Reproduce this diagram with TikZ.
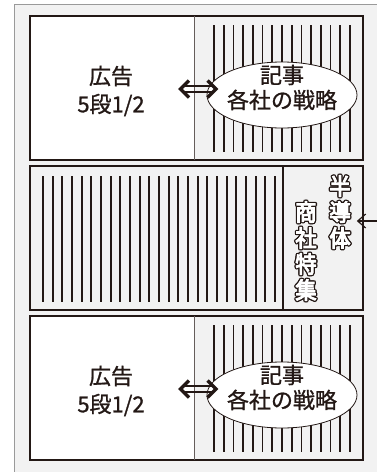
\documentclass[tikz,border=0pt]{standalone}
\usepackage{fontspec}
\setmainfont{Noto Sans CJK JP}[FakeBold=1]
\newfontfamily\cjkbold[FakeBold=4.5,FakeStretch=0.92]{Noto Sans CJK JP}
\usetikzlibrary{shapes.geometric,arrows.meta}
\definecolor{ink}{HTML}{231815}
\definecolor{paper}{HTML}{F2F2F2}
\definecolor{rim}{HTML}{9A9A9A}
\newcommand{\hollowtext}[4]{%
  \foreach \dx/\dy in {-1.3/0,1.3/0,0/-1.3,0/1.3,-0.95/-0.95,0.95/0.95,-0.95/0.95,0.95/-0.95}{%
    \node[vchar,text=ink] at (#2+\dx,#3+\dy) {#4};}%
  \node[vchar,text=white] (#1) at (#2,#3) {#4};%
}
\begin{document}
\begin{tikzpicture}[x=1pt,y=-1pt,
  cellw/.style={fill=white, inner sep=0, outer sep=0},
  cellg/.style={fill=paper, inner sep=0, outer sep=0},
  frame/.style={draw=ink, line width=1.2pt},
  divline/.style={draw=ink!70, line width=1pt},
  hatch/.style={draw=ink, line width=1.8pt},
  bubble/.style={ellipse, draw=ink, line width=0.8pt, fill=white, minimum width=150pt, minimum height=66pt, inner sep=0},
  adlabel/.style={font=\fontsize{22}{28}\selectfont, align=center, text=ink, inner sep=0},
  artlabel/.style={font=\fontsize{22}{25}\selectfont, align=center, text=ink, inner sep=0},
  vchar/.style={font=\cjkbold\fontsize{23}{23}\selectfont, inner sep=0},
  chev/.style={draw=ink, line width=3.3pt, line join=miter, line cap=butt},
  shaft/.style={draw=ink, line width=1.5pt},
  pointer/.style={draw=ink, line width=1.2pt, -{Straight Barb[length=8pt,width=14pt,line width=1.2pt]}}
]
\useasboundingbox (0,0) rectangle (377,472);
\clip (0,0) rectangle (377,472);
\fill[white] (0,0) rectangle (377,472);
\draw[rim, fill=paper, line width=1.5pt] (14.5,4.5) rectangle (390,490);
\foreach \o/\k in {0/a,300/b}{
  \node[cellw, minimum width=164pt, minimum height=144pt] (ad\k) at (112,88+\o) {};
  \node[cellg, minimum width=169pt, minimum height=144pt] (art\k) at (278.5,88+\o) {};
  \foreach \i in {0,...,14} \draw[hatch] (214+\i*9.714,25+\o) -- (214+\i*9.714,152+\o);
  \draw[frame] (ad\k.north west) rectangle (art\k.south east);
  \draw[divline] (ad\k.north east) -- (ad\k.south east);
  \node[adlabel] (adt\k) at (111,91+\o) {広告\\5段1/2};
  \node[bubble] (el\k) at (282,95+\o) {};
  \node[artlabel] (elt\k) at (282,87.5+\o) {記事\\各社の戦略};
  \coordinate (dl\k) at (180.5,89+\o);
  \coordinate (dr\k) at (216,89+\o);
  \draw[shaft] ([shift={(2,2.8)}]dl\k) -- ([shift={(-2,2.8)}]dr\k);
  \draw[shaft] ([shift={(2,-2.8)}]dl\k) -- ([shift={(-2,-2.8)}]dr\k);
  \draw[chev] ([shift={(8.5,-8.5)}]dl\k) -- (dl\k) -- ([shift={(8.5,8.5)}]dl\k);
  \draw[chev] ([shift={(-8.5,-8.5)}]dr\k) -- (dr\k) -- ([shift={(-8.5,8.5)}]dr\k);
}
\node[cellg, minimum width=253pt, minimum height=144pt] (mid) at (156.5,238) {};
\node[cellg, minimum width=80pt, minimum height=144pt] (side) at (323,238) {};
\foreach \i in {0,...,24} \draw[hatch] (43+\i*9.667,176) -- (43+\i*9.667,302);
\draw[frame] (mid.north west) rectangle (side.south east);
\draw[frame] (mid.north east) -- (mid.south east);
\hollowtext{h1}{340}{186}{半}
\hollowtext{h2}{340}{212}{導}
\hollowtext{h3}{340}{238}{体}
\hollowtext{s1}{306}{212}{商}
\hollowtext{s2}{306}{238}{社}
\hollowtext{s3}{306}{264}{特}
\hollowtext{s4}{306}{290}{集}
\coordinate (src) at (378,221);
\coordinate (tipR) at (h2.east |- src);
\draw[pointer] (src) -- ([xshift=6pt]tipR);
\end{tikzpicture}
\end{document}
